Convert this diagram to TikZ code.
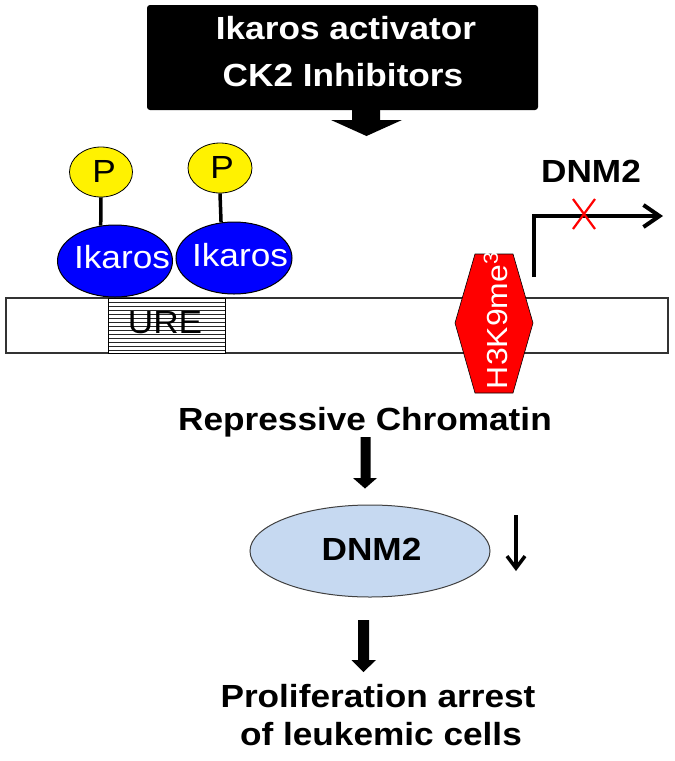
\documentclass[tikz,border=0pt]{standalone}
\usepackage{fontspec}
\setmainfont{Liberation Sans}[FakeStretch=1.1]
\usetikzlibrary{shapes.geometric,arrows.meta}
\begin{document}
\begin{tikzpicture}[x=1pt,y=-1pt,
  txt/.style={inner sep=0pt, outer sep=0pt, anchor=base},
  bigb/.style={txt, font=\fontsize{32}{38}\selectfont\bfseries},
  regt/.style={txt, font=\fontsize{32}{38}\selectfont},
  ikel/.style={ellipse, draw=black, line width=1pt, fill=blue, minimum width=115pt, minimum height=72pt, inner sep=0pt},
  pel/.style={ellipse, draw=black, line width=0.8pt, fill=yellow, minimum width=63pt, minimum height=50pt, inner sep=0pt},
  stem/.style={line width=3.5pt},
  blockarr/.style={fill=black},
]
\useasboundingbox (0,0) rectangle (675,761);
\definecolor{lightblue}{RGB}{198,217,241}

% black box
\node[fill=black, rounded corners=3pt, minimum width=391pt, minimum height=105pt, inner sep=0pt] (box) at (342.5,57.5) {};
\node[bigb, white] (t1) at (346,39) {Ikaros activator};
\node[bigb, white] (t2) at (343,86) {CK2 Inhibitors};
\fill[blockarr] (352,109) -- (380,109) -- (380,120) -- (402,120) -- (366.5,136) -- (331,120) -- (352,120) -- cycle;

% chromosome bar
\draw[line width=1.6pt, draw=black!80, fill=white] (6,298) rectangle (668,353);
% URE
\draw[line width=1pt, fill=white] (108,298) rectangle (225,353);
\foreach \yy in {302,306,...,350} \draw[line width=0.6pt, black!85] (108,\yy) -- (225,\yy);
\draw[line width=1pt] (108,298) rectangle (225,353);
\node[regt] (ure) at (165,333) {URE};

% Ikaros
\node[ikel] (ik1) at (115,261) {};
\node[ikel, minimum width=116pt] (ik2) at (234,258) {};
\node[regt, white] (ikt1) at (122,268) {Ikaros};
\node[regt, white] (ikt2) at (240,266) {Ikaros};
\node[pel] (p1) at (101,172) {};
\node[pel, minimum width=64pt] (p2) at (220,168) {};
\node[regt] (pt1) at (104,182) {P};
\node[regt] (pt2) at (222,178) {P};
\draw[stem] (p1.south) -- (ik1.112);
\draw[stem] (p2.south) -- (ik2.110);

% H3K9me3
\draw[fill=red, draw=black, line width=0.6pt] (475,254) -- (513,254) -- (533,323) -- (513,393) -- (475,393) -- (455,323) -- cycle;
\node[txt, anchor=base west, rotate=90, white, font=\fontsize{29}{34}\selectfont] (h3) at (507,389) {H3K9me\textsuperscript{3}};

% promoter
\coordinate (prA) at (534,277);
\coordinate (prB) at (534,216);
\coordinate (prC) at (663,216);
\draw[line width=4pt, -{Straight Barb[length=16pt,width=22pt]}] (prA) -- (prB) -- (prC);
\draw[red, line width=2.2pt] (573,199) -- (595,229) (595,199) -- (573,229);
\node[bigb] (dnmtop) at (591,182) {DNM2};

% repressive chromatin
\node[bigb] (rep) at (365,430) {Repressive Chromatin};
\fill[blockarr] (360.5,437) -- (370.5,437) -- (370.5,478) -- (377,478) -- (365,488.5) -- (353,478) -- (360.5,478) -- cycle;

% DNM2 ellipse
\node[ellipse, draw=black!75, line width=1pt, fill=lightblue, minimum width=240pt, minimum height=92pt, inner sep=0pt] (dnm) at (370,551) {};
\node[bigb] (dnmt) at (371.5,560) {DNM2};
\coordinate (dA) at (516,515);
\coordinate (dB) at (516,571);
\draw[line width=3.5pt, -{Straight Barb[length=12pt,width=18pt]}] (dA) -- (dB);

% proliferation
\fill[blockarr] (358,620) -- (369,620) -- (369,660) -- (376,660) -- (363.5,672) -- (351.5,660) -- (358,660) -- cycle;
\node[bigb] (pr1) at (378,707) {Proliferation arrest};
\node[bigb] (pr2) at (381,745) {of leukemic cells};
\end{tikzpicture}
\end{document}
